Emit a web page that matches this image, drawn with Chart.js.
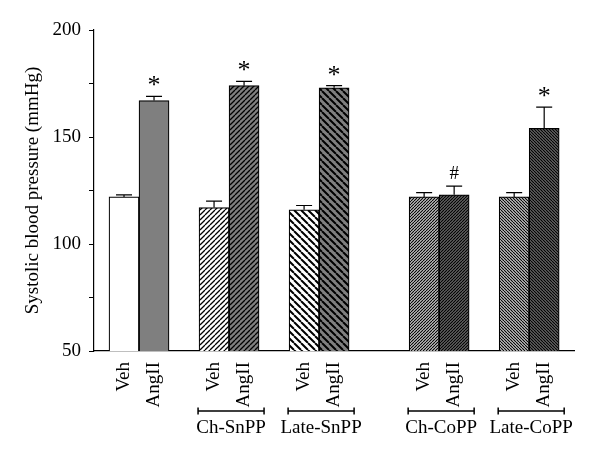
<!DOCTYPE html>
<html>
<head>
<meta charset="utf-8">
<script src="https://cdn.jsdelivr.net/npm/chart.js@4/dist/chart.umd.min.js"></script>
<style>
  body { margin: 0; background: #fff; }
  #wrap { width: 600px; height: 458px; }
</style>
</head>
<body>
<div id="wrap"><canvas id="myChart"></canvas></div>
<script>
// data
const groups = ['', 'Ch-SnPP', 'Late-SnPP', 'Ch-CoPP', 'Late-CoPP'];
const treatments = ['Veh', 'AngII'];
const means = [[122, 167], [117, 174], [116, 173], [122, 123], [122, 154]];
const sems = [[1, 2], [3, 2], [2, 1], [2, 4], [2, 10]];
const marks = [['', '*'], ['', '*'], ['', '*'], ['', '#'], ['', '*']];
const yTicks = [50, 100, 150, 200];

const FONT = 'Liberation Serif';

function hatch(bg, dir, step, lw) {
    const c = document.createElement('canvas');
    c.width = c.height = step;
    const g = c.getContext('2d');
    g.fillStyle = bg;
    g.fillRect(0, 0, step, step);
    g.strokeStyle = '#000';
    g.lineWidth = lw;
    g.beginPath();
    for (const o of [-step, 0, step]) {
        if (dir > 0) { g.moveTo(o, step); g.lineTo(o + step, 0); }
        else { g.moveTo(o, 0); g.lineTo(o + step, step); }
    }
    g.stroke();
    return g.createPattern(c, 'repeat');
}

const fills = [
    ['#ffffff', '#7f7f7f'],
    [hatch('#ffffff', 1, 5, 1.3), hatch('#7f7f7f', 1, 5, 1.3)],
    [hatch('#ffffff', -1, 7, 2), hatch('#7f7f7f', -1, 7, 2)],
    [hatch('#cfcfcf', 1, 3, 1.1), hatch('#6a6a6a', 1, 3, 1.1)],
    [hatch('#cfcfcf', -1, 3, 1.1), hatch('#6a6a6a', -1, 3, 1.1)]
];

// empty slots between groups
const gapAfter = [1, 1, 2, 1];

const labels = [''], values = [null], errs = [null], stars = [null], colors = ['#fff'], groupIdx = [null];
groups.forEach((g, gi) => {
    treatments.forEach((t, ti) => {
        labels.push(t);
        values.push(means[gi][ti]);
        errs.push(sems[gi][ti]);
        stars.push(marks[gi][ti]);
        colors.push(fills[gi][ti]);
        groupIdx.push(gi);
    });
    if (gi < groups.length - 1) {
        for (let k = 0; k < gapAfter[gi]; k++) {
            labels.push(''); values.push(null); errs.push(null); stars.push(null); colors.push('#fff'); groupIdx.push(null);
        }
    }
});
labels.push(''); values.push(null); errs.push(null); stars.push(null); colors.push('#fff'); groupIdx.push(null);

const extras = {
    id: 'extras',
    afterDatasetsDraw(chart) {
        const ctx = chart.ctx;
        const y = chart.scales.y;
        const meta = chart.getDatasetMeta(0);
        ctx.save();
        ctx.strokeStyle = '#000';
        ctx.fillStyle = '#000';
        ctx.lineWidth = 1.2;
        meta.data.forEach((bar, i) => {
            if (values[i] == null) return;
            const top = y.getPixelForValue(values[i]);
            const cap = y.getPixelForValue(values[i] + errs[i]);
            ctx.beginPath();
            ctx.moveTo(bar.x, top);
            ctx.lineTo(bar.x, cap);
            ctx.moveTo(bar.x - 8, cap);
            ctx.lineTo(bar.x + 8, cap);
            ctx.stroke();
            if (stars[i]) {
                ctx.textAlign = 'center';
                ctx.textBaseline = 'alphabetic';
                if (stars[i] === '*') {
                    ctx.font = '26px "' + FONT + '"';
                    ctx.fillText('*', bar.x, cap - 3);
                } else {
                    ctx.font = '19px "' + FONT + '"';
                    ctx.fillText(stars[i], bar.x, cap - 7);
                }
            }
        });
        ctx.restore();
    },
    afterDraw(chart) {
        const ctx = chart.ctx;
        const meta = chart.getDatasetMeta(0);
        ctx.save();
        ctx.strokeStyle = '#000';
        ctx.fillStyle = '#000';
        ctx.lineWidth = 1.5;
        groups.forEach((g, gi) => {
            if (!g) return;
            const idx = groupIdx.map((v, i) => v === gi ? i : -1).filter(i => i >= 0);
            const cx = (meta.data[idx[0]].x + meta.data[idx[idx.length - 1]].x) / 2 + 2;
            const x0 = cx - 33, x1 = cx + 33, yb = 411;
            ctx.beginPath();
            ctx.moveTo(x0, yb); ctx.lineTo(x1, yb);
            ctx.moveTo(x0, yb - 3.5); ctx.lineTo(x0, yb + 3.5);
            ctx.moveTo(x1, yb - 3.5); ctx.lineTo(x1, yb + 3.5);
            ctx.stroke();
            ctx.font = '19px "' + FONT + '"';
            ctx.textAlign = 'center';
            ctx.textBaseline = 'alphabetic';
            ctx.fillText(g, cx, 433);
        });
        ctx.restore();
    }
};

new Chart(document.getElementById('myChart'), {
    type: 'bar',
    data: {
        labels: labels,
        datasets: [{
            data: values,
            backgroundColor: colors,
            borderColor: '#000',
            borderWidth: 1.2,
            barThickness: 30
        }]
    },
    options: {
        responsive: true,
        maintainAspectRatio: false,
        animation: false,
        layout: { padding: { top: 30, right: 25, left: 0, bottom: 0 } },
        plugins: { legend: { display: false }, tooltip: { enabled: false } },
        scales: {
            x: {
                offset: false,
                grid: { display: false },
                border: { display: true, color: '#000', width: 1.2 },
                ticks: {
                    autoSkip: false,
                    maxRotation: 90,
                    minRotation: 90,
                    padding: 3,
                    color: '#000',
                    font: { family: FONT, size: 19 }
                },
                afterFit(scale) { scale.height = 107; }
            },
            y: {
                min: 50,
                max: 200,
                ticks: {
                    stepSize: 25,
                    padding: 8,
                    color: '#000',
                    font: { family: FONT, size: 19 },
                    callback: v => yTicks.includes(v) ? v : ''
                },
                grid: { drawOnChartArea: false, drawTicks: true, tickLength: 5, tickColor: '#000' },
                border: { display: true, color: '#000', width: 1.2 },
                title: {
                    display: true,
                    text: 'Systolic blood pressure (mmHg)',
                    color: '#000',
                    font: { family: FONT, size: 19 },
                    padding: { top: 22, bottom: 0 }
                },
                afterFit(scale) { scale.width = 94; }
            }
        }
    },
    plugins: [extras]
});
</script>
</body>
</html>
